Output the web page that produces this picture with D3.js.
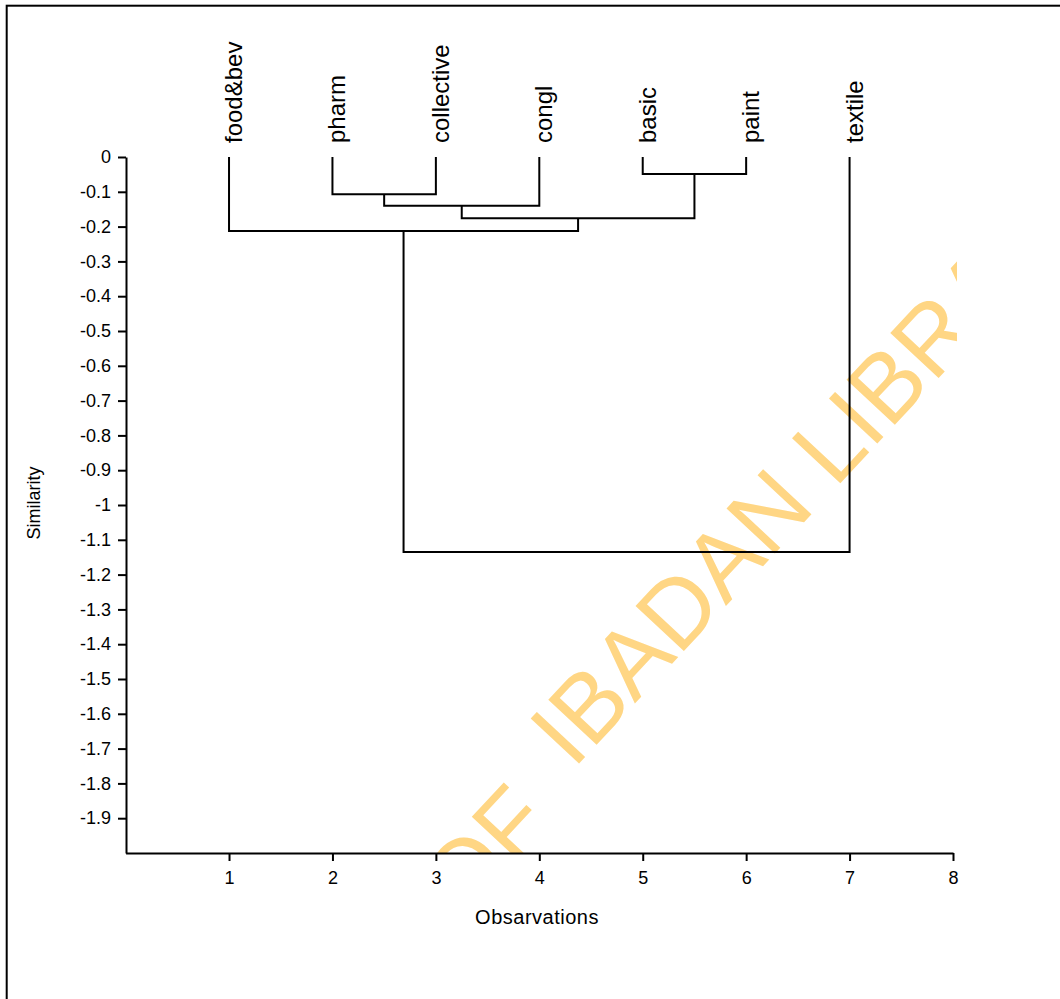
<!DOCTYPE html>
<html><head><meta charset="utf-8">
<script src="https://cdn.jsdelivr.net/npm/d3@7"></script>
<style>body{margin:0;background:#fff}svg{display:block}</style></head>
<body><svg id="c" width="1060" height="999"></svg>
<script>
// ---- data ----
const leaves = ["food&bev","pharm","collective","congl","basic","paint","textile"];
const leafPositions = [1,2,3,4,5,6,7];
// merges: indices < 7 are leaves, 7+k refers to merge k
const mergeLeft   = [1, 4, 7, 9, 0, 11];
const mergeRight  = [2, 5, 3, 8, 10, 6];
const mergeHeight = [-0.107, -0.049, -0.140, -0.176, -0.213, -1.135];
const yTicks = [0,-0.1,-0.2,-0.3,-0.4,-0.5,-0.6,-0.7,-0.8,-0.9,-1,-1.1,-1.2,-1.3,-1.4,-1.5,-1.6,-1.7,-1.8,-1.9];
const xTicks = [1,2,3,4,5,6,7,8];
const xTitle = "Obsarvations";
const yTitle = "Similarity";
const watermarkParts = ["UNIVERSITY OF", "IBADAN LIBRARY"];

// ---- layout ----
const svg = d3.select("#c");
const FONT = "Arial, 'Liberation Sans', sans-serif";
svg.append("rect").attr("width",1060).attr("height",999).attr("fill","#fff");
svg.append("rect").attr("x",6.7).attr("y",5.7).attr("width",1200).attr("height",1200)
   .attr("fill","none").attr("stroke","#000").attr("stroke-width",2);

const x = d3.scaleLinear().domain([0,8]).range([125.6,953]);
const y = d3.scaleLinear().domain([0,-2]).range([157,853]);

// watermark (behind, clipped to plot area)
const defs = svg.append("defs");
defs.append("clipPath").attr("id","plotclip").append("rect")
   .attr("x",126).attr("y",0).attr("width",831).attr("height",853);
const wm = svg.append("g").attr("clip-path","url(#plotclip)");
const ang = -47, rad = ang*Math.PI/180;
const ox = 573, oy = 770, fs = 96;
const gap = 0.278*fs + 22;
const dx = Math.cos(rad), dy = Math.sin(rad);
wm.append("text")
  .attr("transform",`translate(${ox - gap*dx + 15},${oy - gap*dy + 19}) rotate(${ang})`)
  .attr("text-anchor","end").attr("font-family",FONT).attr("font-size",fs)
  .attr("fill","#FFD684").text(watermarkParts[0]);
wm.append("text")
  .attr("transform",`translate(${ox},${oy}) rotate(${ang})`)
  .attr("text-anchor","start").attr("font-family",FONT).attr("font-size",fs)
  .attr("fill","#FFD684").text(watermarkParts[1]);

// axes
const yAxis = d3.axisLeft(y).tickValues(yTicks).tickSize(8).tickSizeOuter(0).tickPadding(7)
  .tickFormat(d => d === 0 ? "0" : String(+d.toFixed(1)));
const gy = svg.append("g").attr("transform","translate(126,0)").call(yAxis);
gy.selectAll("text").attr("font-family",FONT).attr("font-size",18).attr("fill","#000");
gy.selectAll("line,path").attr("stroke","#000").attr("stroke-width",2);

const xAxis = d3.axisBottom(x).tickValues(xTicks).tickSize(8).tickSizeOuter(0).tickPadding(10)
  .tickFormat(d3.format("d"));
const gx = svg.append("g").attr("transform","translate(0,853)").call(xAxis);
gx.selectAll("text").attr("font-family",FONT).attr("font-size",18).attr("fill","#000");
gx.selectAll("line,path").attr("stroke","#000").attr("stroke-width",2);

// titles
svg.append("text").attr("x",537).attr("y",924).attr("text-anchor","middle")
  .attr("font-family",FONT).attr("font-size",20).attr("letter-spacing",0.5).attr("fill","#000").text(xTitle);
svg.append("text").attr("transform","translate(40,503) rotate(-90)").attr("text-anchor","middle")
  .attr("font-family",FONT).attr("font-size",18).attr("fill","#000").text(yTitle);

// dendrogram
const nodes = leaves.map((n,i) => ({px: leafPositions[i], h: 0}));
const links = [];
mergeLeft.forEach((l,k) => {
  const a = nodes[l], b = nodes[mergeRight[k]], h = mergeHeight[k];
  links.push({a, b, h});
  nodes.push({px: (a.px + b.px)/2, h});
});
svg.append("g").selectAll("path").data(links).join("path")
  .attr("d", d => `M${x(d.a.px)},${y(d.a.h)}V${y(d.h)}H${x(d.b.px)}V${y(d.b.h)}`)
  .attr("fill","none").attr("stroke","#000").attr("stroke-width",2);

// leaf labels
svg.append("g").selectAll("text").data(leaves).join("text")
  .attr("transform",(d,i) => `translate(${x(leafPositions[i])+13},143) rotate(-90)`)
  .attr("text-anchor","start").attr("font-family",FONT).attr("font-size",24).attr("fill","#000")
  .text(d => d);
</script></body></html>
